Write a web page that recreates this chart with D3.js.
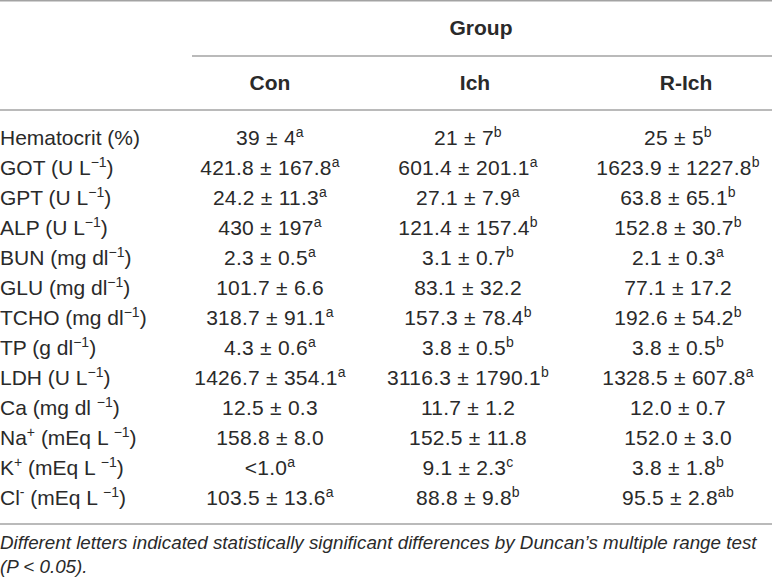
<!DOCTYPE html>
<html>
<head>
<meta charset="utf-8">
<script src="https://cdn.jsdelivr.net/npm/d3@7"></script>
<style>
  html, body { margin: 0; padding: 0; background: #fff; }
  svg { display: block; }
  text { font-family: "Liberation Sans", Arial, Helvetica, sans-serif; fill: #2a2a2a; }
</style>
</head>
<body>
<div id="table"></div>
<script>
// ^{...} marks a superscript run
var groupTitle = "Group";
var groups = ["Con", "Ich", "R-Ich"];
var params = [
  "Hematocrit (%)",
  "GOT (U L^{−1})",
  "GPT (U L^{−1})",
  "ALP (U L^{−1})",
  "BUN (mg dl^{−1})",
  "GLU (mg dl^{−1})",
  "TCHO (mg dl^{−1})",
  "TP (g dl^{−1})",
  "LDH (U L^{−1})",
  "Ca (mg dl ^{−1})",
  "Na^{+} (mEq L ^{−1})",
  "K^{+} (mEq L ^{−1})",
  "Cl^{-} (mEq L ^{−1})"
];
var conValues = [
  "39 ± 4^{a}", "421.8 ± 167.8^{a}", "24.2 ± 11.3^{a}", "430 ± 197^{a}", "2.3 ± 0.5^{a}",
  "101.7 ± 6.6", "318.7 ± 91.1^{a}", "4.3 ± 0.6^{a}", "1426.7 ± 354.1^{a}", "12.5 ± 0.3",
  "158.8 ± 8.0", "<1.0^{a}", "103.5 ± 13.6^{a}"
];
var ichValues = [
  "21 ± 7^{b}", "601.4 ± 201.1^{a}", "27.1 ± 7.9^{a}", "121.4 ± 157.4^{b}", "3.1 ± 0.7^{b}",
  "83.1 ± 32.2", "157.3 ± 78.4^{b}", "3.8 ± 0.5^{b}", "3116.3 ± 1790.1^{b}", "11.7 ± 1.2",
  "152.5 ± 11.8", "9.1 ± 2.3^{c}", "88.8 ± 9.8^{b}"
];
var rIchValues = [
  "25 ± 5^{b}", "1623.9 ± 1227.8^{b}", "63.8 ± 65.1^{b}", "152.8 ± 30.7^{b}", "2.1 ± 0.3^{a}",
  "77.1 ± 17.2", "192.6 ± 54.2^{b}", "3.8 ± 0.5^{b}", "1328.5 ± 607.8^{a}", "12.0 ± 0.7",
  "152.0 ± 3.0", "3.8 ± 1.8^{b}", "95.5 ± 2.8^{ab}"
];
var footnote = [
  "Different letters indicated statistically significant differences by Duncan\u2019s multiple range test",
  "(P < 0.05)."
];

var width = 772, height = 586;
var fontSize = 21, supSize = 14, supRise = 8;
var lineColor = "#a3a3a3";

var svg = d3.select("#table").append("svg")
  .attr("width", width)
  .attr("height", height);

var columns = [conValues, ichValues, rIchValues];

// header and body column centres
var xHead = d3.scaleOrdinal().domain(groups).range([270, 475, 686]);
var xCell = d3.scaleOrdinal().domain(groups).range([270, 468, 678]);

var y = d3.scaleBand()
  .domain(d3.range(params.length))
  .range([123, 513])
  .paddingInner(0);

// split "abc^{x}def" into runs
function parse(s){
  var parts = [], re = /\^\{([^}]*)\}/g, last = 0, m;
  while((m = re.exec(s)) !== null){
    if(m.index > last) parts.push({t: s.slice(last, m.index), sup: false});
    parts.push({t: m[1], sup: true});
    last = re.lastIndex;
  }
  if(last < s.length) parts.push({t: s.slice(last), sup: false});
  return parts;
}

function richText(sel, s){
  var parts = parse(s), raised = false;
  parts.forEach(function(p){
    var dy = 0;
    if(p.sup && !raised){ dy = -supRise; raised = true; }
    else if(!p.sup && raised){ dy = supRise; raised = false; }
    sel.append("tspan")
      .attr("dy", dy)
      .attr("font-size", p.sup ? supSize : fontSize)
      .text(p.t);
  });
}

// rules
function rule(x1, x2, yy){
  svg.append("line")
    .attr("x1", x1).attr("x2", x2)
    .attr("y1", yy).attr("y2", yy)
    .attr("stroke", lineColor)
    .attr("stroke-width", 1.5);
}
rule(0, width, 0.8);
rule(192, width, 56);
rule(0, width, 110);
rule(0, width, 524);

// header
svg.append("text")
  .attr("x", 481)
  .attr("y", 35)
  .attr("text-anchor", "middle")
  .attr("font-size", fontSize)
  .attr("font-weight", "bold")
  .text(groupTitle);

svg.append("g").selectAll("text")
  .data(groups)
  .enter()
    .append("text")
      .attr("x", function(d){ return xHead(d); })
      .attr("y", 90)
      .attr("text-anchor", "middle")
      .attr("font-size", fontSize)
      .attr("font-weight", "bold")
      .text(function(d){ return d; });

// body
var rows = svg.append("g").selectAll("g")
  .data(params)
  .enter()
    .append("g")
      .attr("transform", function(d, i){ return "translate(0," + (y(i) + y.bandwidth()/2 + 7) + ")"; });

rows.append("text")
  .attr("x", 0)
  .attr("font-size", fontSize)
  .each(function(d){ richText(d3.select(this), d); });

groups.forEach(function(g, gi){
  rows.append("text")
    .attr("x", xCell(g))
    .attr("text-anchor", "middle")
    .attr("font-size", fontSize)
    .attr("letter-spacing", 0.25)
    .each(function(d, i){ richText(d3.select(this), columns[gi][i]); });
});

// footnote
svg.append("g").selectAll("text")
  .data(footnote)
  .enter()
    .append("text")
      .attr("x", 0)
      .attr("y", function(d, i){ return 549 + i*24; })
      .attr("font-size", 18.8)
      .attr("font-style", "italic")
      .text(function(d){ return d; });
</script>
</body>
</html>
